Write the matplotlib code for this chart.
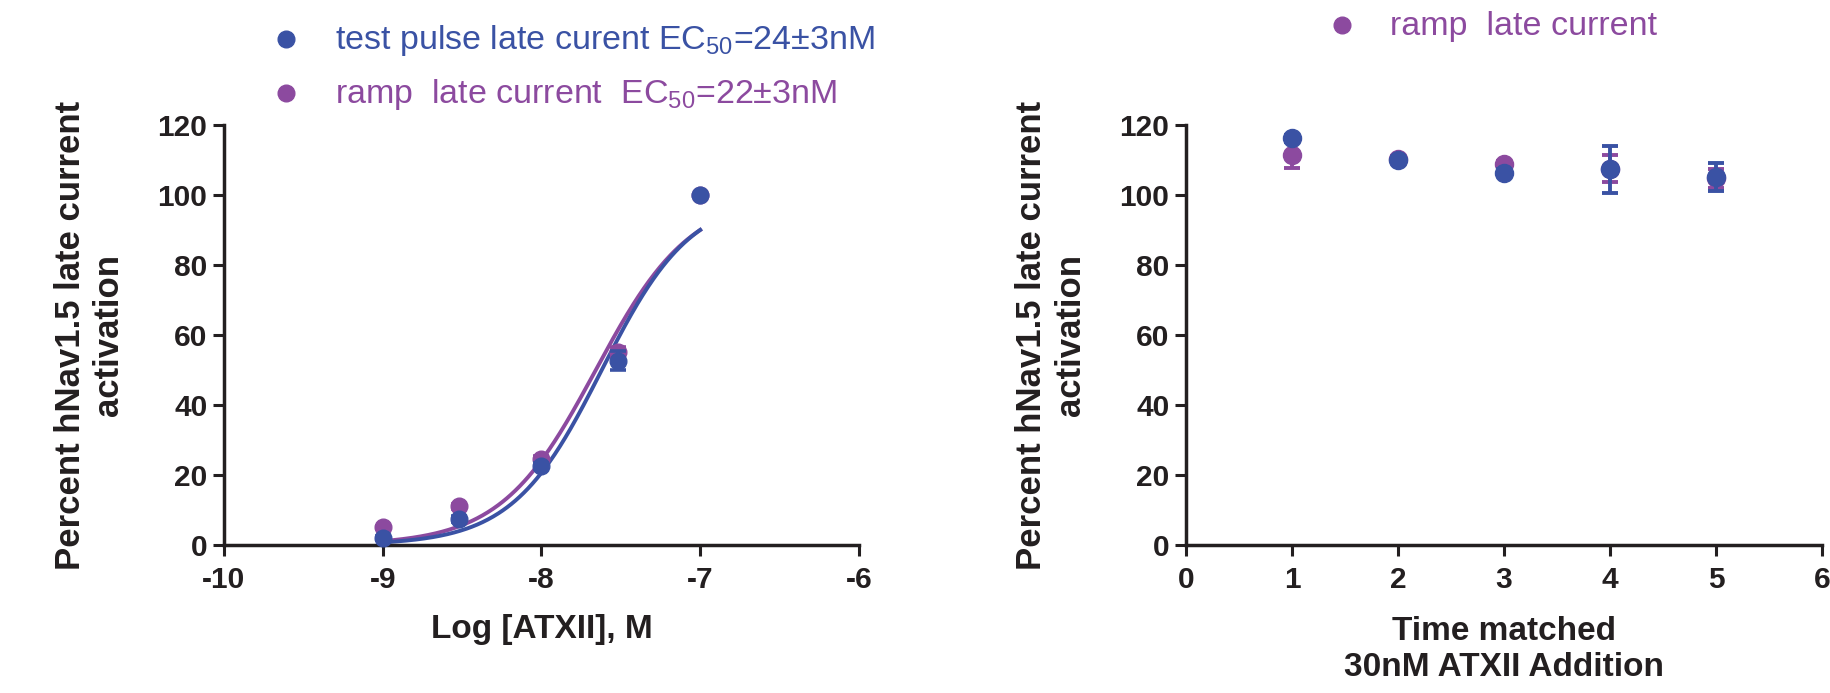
import numpy as np
import matplotlib
matplotlib.use('Agg')
import matplotlib.pyplot as plt
from matplotlib.lines import Line2D

plt.rcParams['font.family'] = ['Liberation Sans', 'DejaVu Sans']
plt.rcParams['mathtext.fontset'] = 'custom'
plt.rcParams['mathtext.rm'] = 'Liberation Sans'
plt.rcParams['mathtext.it'] = 'Liberation Sans:italic'

blue = '#3a52a4'
purple = '#8c4a9f'
ink = '#231f20'

# dose response (left)
log_conc = [-9.0, -8.52, -8.0, -7.52, -7.0]
pulse_pct = [2.0, 7.5, 22.6, 52.7, 100.0]
pulse_err = [0.5, 0.8, 0.8, 2.7, 0.0]
ramp_pct = [5.0, 11.0, 24.6, 55.1, 100.0]
ramp_err = [0.5, 0.8, 0.8, 1.5, 0.0]

# fitted hill curves: EC50 (M), hill slope
pulse_ec50, pulse_hill = 24e-9, 1.54
ramp_ec50, ramp_hill = 22e-9, 1.45

# time matched (right)
time_pt = [1, 2, 3, 4, 5]
tm_pulse = [116.2, 110.0, 106.3, 107.3, 105.2]
tm_pulse_err = [1.0, 0.8, 1.0, 6.7, 4.0]
tm_ramp = [111.4, 110.2, 108.8, 107.5, 104.8]
tm_ramp_err = [3.8, 0.8, 1.0, 3.9, 2.7]

ylab = 'Percent hNav1.5 late current\nactivation'


def hill(logx, ec50, n):
    x = 10.0 ** logx
    return 100.0 * x**n / (x**n + ec50**n)


def style(ax, xlim, xticks):
    ax.set_xlim(*xlim)
    ax.set_ylim(0, 120)
    ax.set_xticks(xticks)
    ax.set_yticks(range(0, 121, 20))
    for s in ['top', 'right']:
        ax.spines[s].set_visible(False)
    for s in ['left', 'bottom']:
        ax.spines[s].set_linewidth(2.5)
        ax.spines[s].set_color(ink)
    ax.tick_params(direction='out', length=8, width=2.2, color=ink,
                   labelsize=21.5, labelcolor=ink)
    ax.tick_params(axis='x', pad=7)
    ax.tick_params(axis='y', pad=4)
    for lab in ax.get_xticklabels() + ax.get_yticklabels():
        lab.set_fontweight('bold')
    ax.set_ylabel(ylab, fontsize=25, fontweight='bold', color=ink,
                  ha='center', va='center', multialignment='center')
    ax.yaxis.set_label_coords(-0.212, 0.5)


fig = plt.figure(figsize=(18.31, 6.93), dpi=100)
ax1 = fig.add_axes([0.1223, 0.2136, 0.3468, 0.6061])
ax2 = fig.add_axes([0.6477, 0.2136, 0.3474, 0.6061])

# left panel
xs = np.linspace(-9, -7, 300)
ax1.plot(xs, hill(xs, ramp_ec50, ramp_hill), color=purple, lw=2.8, zorder=2)
ax1.plot(xs, hill(xs, pulse_ec50, pulse_hill), color=blue, lw=2.8, zorder=2)
ax1.errorbar(log_conc, ramp_pct, yerr=ramp_err, fmt='o', color=purple, ms=12,
             elinewidth=2.6, capsize=6, capthick=2.6, zorder=3, clip_on=False)
ax1.errorbar(log_conc, pulse_pct, yerr=pulse_err, fmt='o', color=blue, ms=12,
             elinewidth=2.6, capsize=6, capthick=2.6, zorder=4, clip_on=False)
style(ax1, (-10, -6), [-10, -9, -8, -7, -6])
ax1.set_xticklabels(['-10', '-9', '-8', '-7', '-6'], fontweight='bold')
ax1.set_xlabel('Log [ATXII], M', fontsize=24, fontweight='bold', color=ink, va='center')
ax1.xaxis.set_label_coords(0.5, -0.202)

# right panel
ax2.errorbar(time_pt, tm_ramp, yerr=tm_ramp_err, fmt='o', color=purple, ms=13,
             elinewidth=2.8, capsize=6, capthick=2.8, zorder=3, clip_on=False)
ax2.errorbar(time_pt, tm_pulse, yerr=tm_pulse_err, fmt='o', color=blue, ms=13,
             elinewidth=2.8, capsize=6, capthick=2.8, zorder=4, clip_on=False)
style(ax2, (0, 6), range(0, 7))
ax2.set_xlabel('Time matched\n30nM ATXII Addition', fontsize=24, fontweight='bold',
               color=ink, va='center', linespacing=1.2)
ax2.xaxis.set_label_coords(0.5, -0.248)

# legend entries drawn by hand
W, H = 1831.0, 693.0
legend = [
    (286, 39, 335, blue, 'test pulse late curent EC$_{50}$=24\u00b13nM'),
    (286, 93, 335, purple, 'ramp  late current  EC$_{50}$=22\u00b13nM'),
    (1342, 25, 1390, purple, 'ramp  late current'),
]
for mx, my, tx, col, txt in legend:
    fig.add_artist(Line2D([mx / W], [1 - my / H], marker='o', ms=12, color=col,
                          transform=fig.transFigure))
    fig.text(tx / W, 1 - (my + 10) / H, txt, color=col, fontsize=24.5,
             ha='left', va='baseline')

plt.savefig('out.png', dpi=100)
